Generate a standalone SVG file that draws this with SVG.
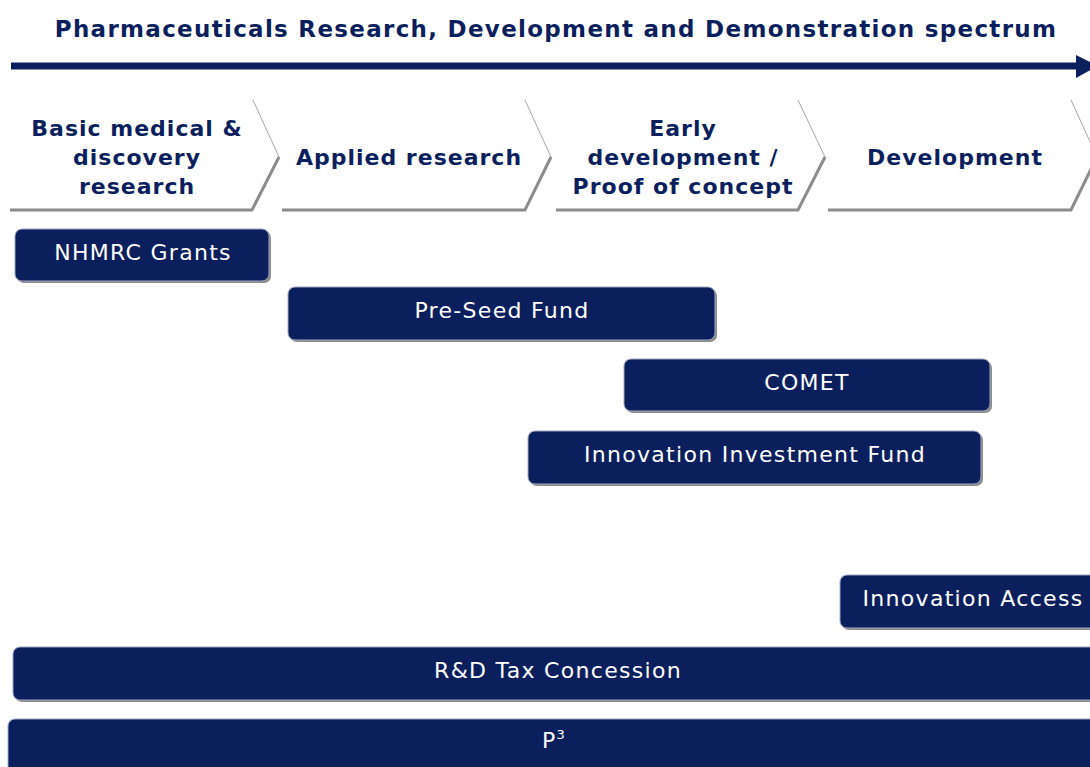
<svg xmlns="http://www.w3.org/2000/svg" width="1090" height="767" viewBox="0 0 1090 767">
  <defs>
    <style>
      .title { font-family: "DejaVu Sans", Verdana, sans-serif; font-weight: bold; font-size: 23px; letter-spacing: 1.3px; fill: #0b1f5c; text-anchor: middle; }
      .stage { font-family: "DejaVu Sans", Verdana, sans-serif; font-weight: bold; font-size: 22px; letter-spacing: 1px; fill: #0b1f5c; text-anchor: middle; }
      .edge-thin { fill: none; stroke: #a6a6a6; stroke-width: 1; }
      .edge-base { fill: none; stroke: #8c8c8c; stroke-width: 3; stroke-linejoin: miter; }
      .bar-shadow { fill: #8a8a8a; }
      .bar { fill: #0b1f5c; stroke: #9ea6bf; stroke-width: 1; }
      .bar-label { font-family: "DejaVu Sans", Verdana, sans-serif; font-size: 22px; letter-spacing: 1.3px; fill: #ffffff; text-anchor: middle; }
    </style>
  </defs>

  <rect width="1090" height="767" fill="#ffffff"/>

  <text class="title" x="556" y="37">Pharmaceuticals Research, Development and Demonstration spectrum</text>

  <!-- spectrum arrow -->
  <g id="connectors">
    <line x1="11" y1="66" x2="1078" y2="66" stroke="#0b1f5c" stroke-width="7"/>
    <path d="M1076,55 L1098,66 L1076,78 Z" fill="#0b1f5c"/>
  </g>

  <!-- stage chevrons -->
  <g id="stage-basic">
    <path class="edge-thin" d="M253,100 L279,157"/>
    <path class="edge-base" d="M10,210 L252,210 L279,157"/>
    <text class="stage" x="137" y="136">Basic medical &amp;</text>
    <text class="stage" x="137" y="165">discovery</text>
    <text class="stage" x="137" y="194">research</text>
  </g>
  <g id="stage-applied">
    <path class="edge-thin" d="M525,100 L551,157"/>
    <path class="edge-base" d="M282,210 L525,210 L551,157"/>
    <text class="stage" x="409" y="165">Applied research</text>
  </g>
  <g id="stage-early">
    <path class="edge-thin" d="M798,100 L825,157"/>
    <path class="edge-base" d="M556,210 L798,210 L825,157"/>
    <text class="stage" x="683" y="136">Early</text>
    <text class="stage" x="683" y="165">development /</text>
    <text class="stage" x="683" y="194">Proof of concept</text>
  </g>
  <g id="stage-development">
    <path class="edge-thin" d="M1071,100 L1097,157"/>
    <path class="edge-base" d="M828,210 L1071,210 L1097,157"/>
    <text class="stage" x="955" y="165">Development</text>
  </g>

  <!-- funding programs -->
  <g id="nhmrc-grants">
    <rect class="bar-shadow" x="17" y="231" width="254" height="52" rx="7"/>
    <rect class="bar" x="15" y="229" width="254" height="52" rx="7"/>
    <text class="bar-label" x="143" y="260">NHMRC Grants</text>
  </g>
  <g id="pre-seed-fund">
    <rect class="bar-shadow" x="290" y="289" width="427" height="53" rx="7"/>
    <rect class="bar" x="288" y="287" width="427" height="53" rx="7"/>
    <text class="bar-label" x="502" y="318">Pre-Seed Fund</text>
  </g>
  <g id="comet">
    <rect class="bar-shadow" x="626" y="361" width="366" height="52" rx="7"/>
    <rect class="bar" x="624" y="359" width="366" height="52" rx="7"/>
    <text class="bar-label" x="807" y="390">COMET</text>
  </g>
  <g id="innovation-investment-fund">
    <rect class="bar-shadow" x="530" y="433" width="453" height="53" rx="7"/>
    <rect class="bar" x="528" y="431" width="453" height="53" rx="7"/>
    <text class="bar-label" x="755" y="462">Innovation Investment Fund</text>
  </g>
  <g id="innovation-access">
    <rect class="bar-shadow" x="842" y="577" width="270" height="53" rx="7"/>
    <rect class="bar" x="840" y="575" width="270" height="53" rx="7"/>
    <text class="bar-label" x="973" y="606">Innovation Access</text>
  </g>
  <g id="rd-tax-concession">
    <rect class="bar-shadow" x="15" y="649" width="1100" height="53" rx="7"/>
    <rect class="bar" x="13" y="647" width="1100" height="53" rx="7"/>
    <text class="bar-label" x="558" y="678">R&amp;D Tax Concession</text>
  </g>
  <g id="p3">
    <rect class="bar-shadow" x="10" y="721" width="1100" height="60" rx="7"/>
    <rect class="bar" x="8" y="719" width="1100" height="60" rx="7"/>
    <text class="bar-label" x="554" y="748">P<tspan font-size="13" dy="-9">3</tspan></text>
  </g>
</svg>
